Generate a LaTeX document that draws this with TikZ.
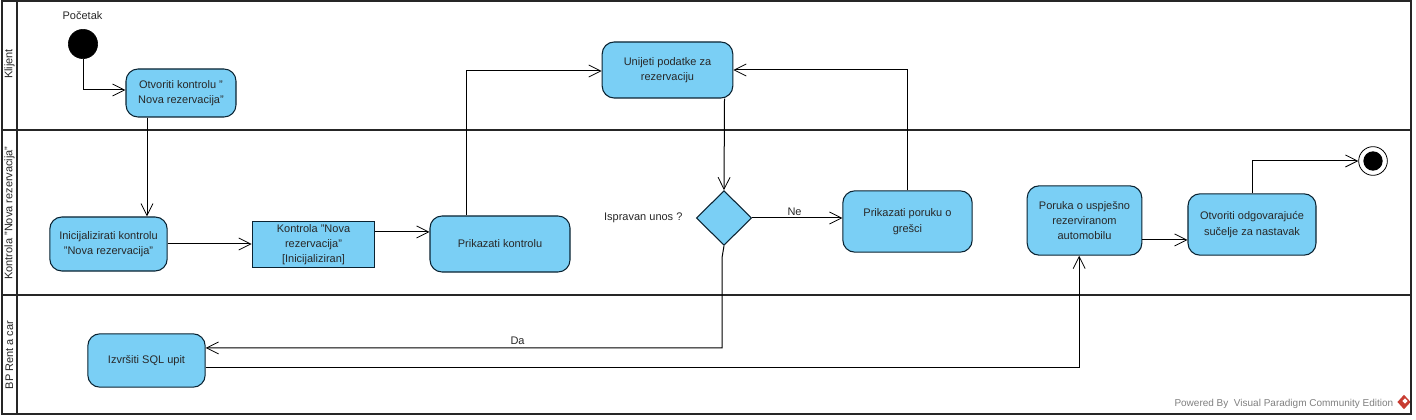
\documentclass[tikz,border=0pt]{standalone}
\usepackage{fontspec}
\setmainfont{Liberation Sans}
\usetikzlibrary{positioning,shapes.geometric,arrows.meta}
\definecolor{actionblue}{RGB}{122,207,245}
\definecolor{actionline}{RGB}{10,35,50}
\definecolor{lanetext}{RGB}{40,40,40}
\definecolor{logored}{RGB}{200,60,50}

\begin{document}
\begin{tikzpicture}[
        x=0.75pt, y=-0.75pt,
        lane/.style = {draw=black!85, line width=1.8pt},
        action/.style = {rectangle, rounded corners=9pt, draw=actionline, fill=actionblue, line width=0.8pt, align=center, font=\fontsize{8.25pt}{11.5pt}\selectfont, text=lanetext, inner sep=0pt},
        objectbox/.style = {rectangle, draw=actionline, fill=actionblue, line width=0.8pt, align=center, font=\fontsize{8.25pt}{11pt}\selectfont, text=lanetext, inner sep=0pt},
        decision/.style = {diamond, draw=actionline, fill=actionblue, line width=0.8pt, minimum width=41.5pt, minimum height=41pt, inner sep=0pt},
        lanelabel/.style = {rotate=90, font=\fontsize{8.25pt}{10pt}\selectfont, text=lanetext},
        note/.style = {font=\fontsize{8.25pt}{10pt}\selectfont, text=lanetext},
        flow/.style = {draw=black, line width=0.75pt, -{Straight Barb[length=9pt,width=9pt,line width=0.6pt]}}
    ]
    \path[use as bounding box, fill=white] (0,0) rectangle (1416,420);

    % lanes
    \node[diamond, fill=logored, minimum width=10pt, minimum height=11pt, inner sep=0pt] (logo) at (1404,402) {};
    \node[diamond, fill=white, minimum width=4pt, minimum height=4pt, inner sep=0pt] (logoin) at (1405,401) {};
    \draw[lane] (2,1) rectangle (1411,414);
    \draw[lane] (17,1) -- (17,414);
    \draw[lane] (2,130) -- (1411,130);
    \draw[lane] (2,295) -- (1411,295);
    \node[lanelabel] (klijent) at (9.5,64) {Klijent};
    \node[lanelabel] (kontrola) at (9.5,213) {Kontrola "Nova rezervacija"};
    \node[lanelabel] (rentacar) at (9.5,355) {BP Rent a car};

    % start and end
    \node[circle, fill=black, draw=black, minimum size=22pt, inner sep=0pt] (start) at (83,44) {};
    \node[note] (pocetak) at (82.5,15.5) {Početak};
    \node[circle, draw=black, fill=white, line width=0.6pt, minimum size=21.5pt, inner sep=0pt] (end) at (1373,161) {};
    \node[circle, fill=black, minimum size=14.5pt, inner sep=0pt] (endin) at (1373,161) {};

    % actions
    \node[action, minimum width=82.5pt, minimum height=36pt] (otvoriti) at (181,93) {Otvoriti kontrolu "\\Nova rezervacija"};
    \node[action, minimum width=88pt, minimum height=40.5pt] (inicijalizirati) at (108.5,244) {Inicijalizirati kontrolu\\"Nova rezervacija"};
    \node[objectbox, minimum width=92pt, minimum height=35pt] (stanje) at (313.5,244.5) {Kontrola "Nova\\rezervacija"\\{[}Inicijaliziran{]}};
    \node[action, minimum width=105pt, minimum height=42pt] (prikazati) at (500,244) {Prikazati kontrolu};
    \node[action, minimum width=98pt, minimum height=42pt] (unijeti) at (667.5,70) {Unijeti podatke za\\rezervaciju};
    \node[decision] (provjera) at (724,218) {};
    \node[note, left=6.5pt of provjera] (ispravan) {Ispravan unos ?};
    \node[action, minimum width=97pt, minimum height=46pt] (greska) at (907.5,221.5) {Prikazati poruku o\\grešci};
    \node[action, minimum width=86pt, minimum height=52pt] (poruka) at (1084.5,220.5) {Poruka o uspješno\\rezerviranom\\automobilu};
    \node[action, minimum width=96pt, minimum height=46pt] (sucelje) at (1252,224.5) {Otvoriti odgovarajuće\\sučelje za nastavak};
    \node[action, minimum width=88pt, minimum height=40pt] (upit) at (146.5,360.5) {Izvršiti SQL upit};

    % flows
    \draw[flow] (start.south) |- ([yshift=2.25pt]otvoriti.west);
    \draw[flow] ([xshift=-25.5pt]otvoriti.south) -- ([xshift=-25.5pt]otvoriti.south |- inicijalizirati.north);
    \draw[flow] (inicijalizirati.east) -- (inicijalizirati.east -| stanje.west);
    \draw[flow] ([yshift=9.4pt]stanje.east) -- ([yshift=9.4pt]stanje.east -| prikazati.west);
    \draw[flow] ([xshift=-25.5pt]prikazati.north) |- ([yshift=-0.75pt]unijeti.west);
    \draw[flow] ([xshift=42.75pt]unijeti.south) -- (provjera.north);
    \draw[flow] (provjera.east) -- node[note, pos=0.47, above=-2pt] (ne) {Ne} (provjera.east -| greska.west);
    \draw[flow] (greska.north) |- (unijeti.east);
    \draw[flow] (provjera.south) -- ++(-2,12) |- node[note, pos=0.698, above=-1.5pt] (da) {Da} ([yshift=9.4pt]upit.east);
    \draw[flow] ([yshift=-5.6pt]upit.east) -| ([xshift=-4pt]poruka.south);
    \draw[flow] ([yshift=-14.6pt]poruka.east) -- ([yshift=-14.6pt]poruka.east -| sucelje.west);
    \draw[flow] (sucelje.north) |- (end.west);

    \node[font=\fontsize{7.5pt}{9pt}\selectfont, text=black!50, anchor=east] (powered) at (1398,403.5) {Powered By\ \ Visual Paradigm Community Edition};
\end{tikzpicture}
\end{document}
